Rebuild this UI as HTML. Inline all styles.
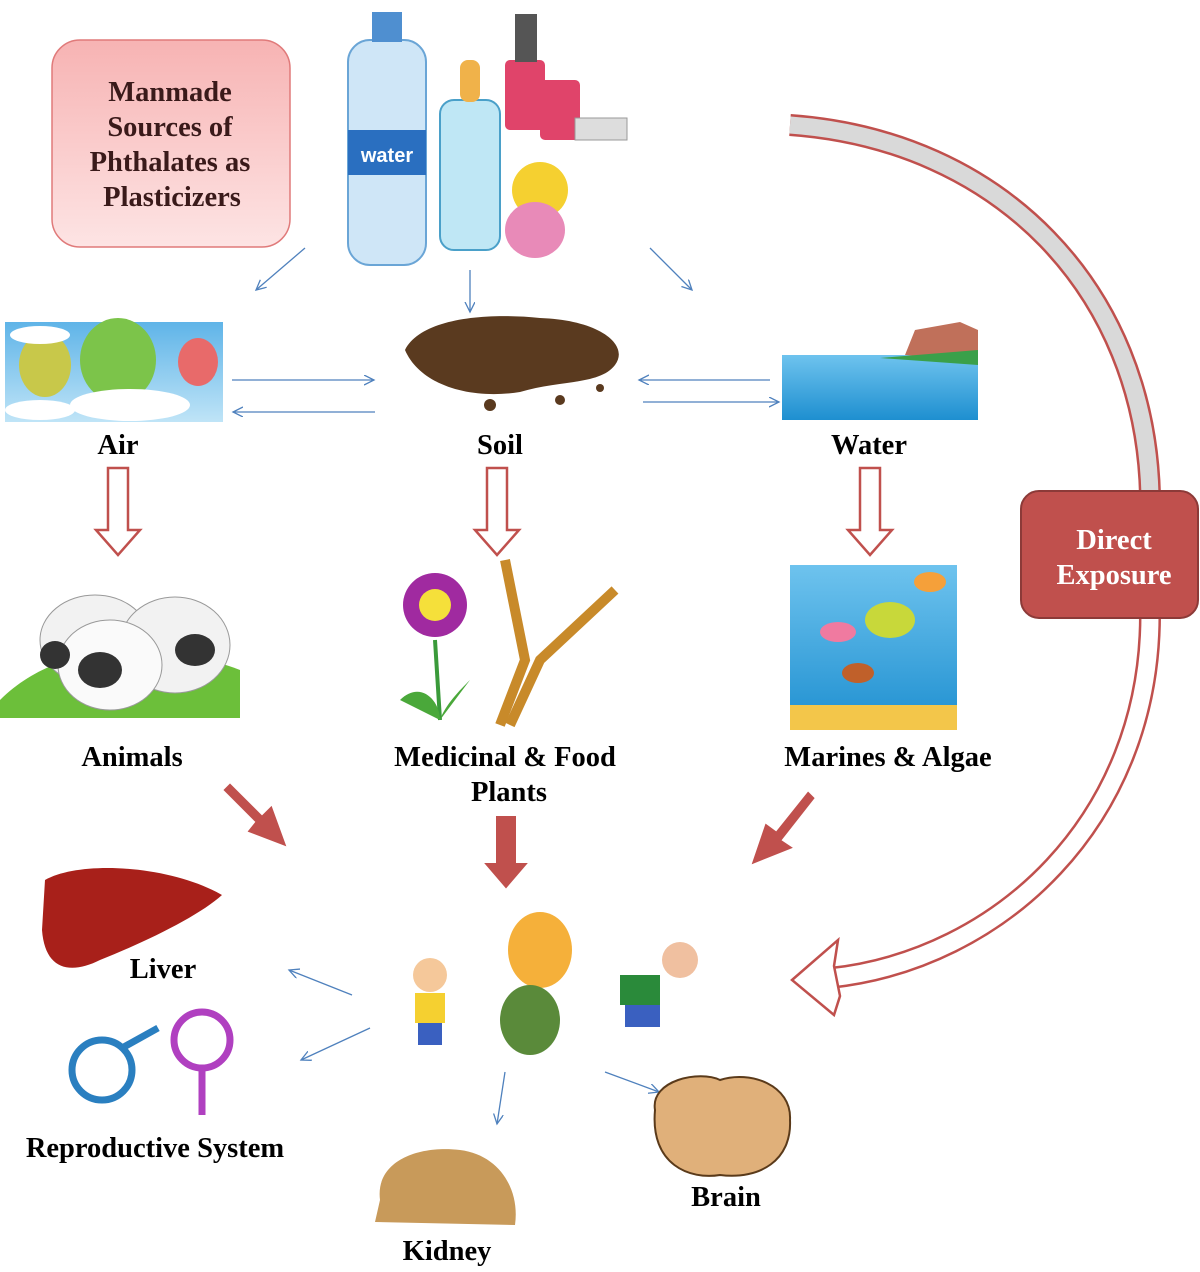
<!DOCTYPE html>
<html><head><meta charset="utf-8"><style>
body{margin:0;background:#fff}
svg text{font-family:"Liberation Serif",serif;font-weight:bold;fill:#000}
</style></head><body>
<svg width="1200" height="1267" viewBox="0 0 1200 1267" xmlns="http://www.w3.org/2000/svg">
<defs>
<linearGradient id="pk" x1="0" y1="0" x2="0" y2="1"><stop offset="0" stop-color="#f7b3b3"/><stop offset="1" stop-color="#fde4e4"/></linearGradient>
<linearGradient id="sky" x1="0" y1="0" x2="0" y2="1"><stop offset="0" stop-color="#5fb4e8"/><stop offset="1" stop-color="#bfe4f7"/></linearGradient>
<linearGradient id="sea" x1="0" y1="0" x2="0" y2="1"><stop offset="0" stop-color="#6ec3ee"/><stop offset="1" stop-color="#1e8fd0"/></linearGradient>
<marker id="ba" markerWidth="12" markerHeight="12" refX="10" refY="5" orient="auto" markerUnits="userSpaceOnUse"><path d="M0,0 L10,5 L0,10" fill="none" stroke="#4f81bd" stroke-width="1.3"/></marker>
</defs>
<rect x="52" y="40" width="238" height="207" rx="28" fill="url(#pk)" stroke="#e07a7a" stroke-width="1.5"/>
<text font-size="28.5" text-anchor="middle" style="fill:#3a1a1a"><tspan x="170" y="101">Manmade</tspan><tspan x="170" y="136">Sources of</tspan><tspan x="170" y="171">Phthalates as</tspan><tspan x="172" y="206">Plasticizers</tspan></text>
<rect x="348" y="40" width="78" height="225" rx="22" fill="#cfe6f7" stroke="#6aa5d6" stroke-width="2"/>
<rect x="372" y="12" width="30" height="30" fill="#4f8fd0"/>
<rect x="348" y="130" width="78" height="45" fill="#2a6fc0"/>
<text x="387" y="162" font-size="20" text-anchor="middle" style="fill:#fff;font-family:'Liberation Sans',sans-serif">water</text>
<rect x="440" y="100" width="60" height="150" rx="14" fill="#bfe7f5" stroke="#4aa0c9" stroke-width="2"/>
<rect x="460" y="60" width="20" height="42" rx="8" fill="#f0b24a"/>
<rect x="505" y="60" width="40" height="70" rx="5" fill="#e0446a"/>
<rect x="515" y="14" width="22" height="48" fill="#555"/>
<rect x="540" y="80" width="40" height="60" rx="5" fill="#e0446a"/>
<circle cx="540" cy="190" r="28" fill="#f5d030"/>
<ellipse cx="535" cy="230" rx="30" ry="28" fill="#e88ab8"/>
<rect x="575" y="118" width="52" height="22" fill="#ddd" stroke="#999"/>
<g stroke="#4f81bd" stroke-width="1.3" fill="none" marker-end="url(#ba)">
<line x1="305" y1="248" x2="256" y2="290"/>
<line x1="470" y1="270" x2="470" y2="312"/>
<line x1="650" y1="248" x2="692" y2="290"/>
<line x1="232" y1="380" x2="374" y2="380"/>
<line x1="375" y1="412" x2="233" y2="412"/>
<line x1="770" y1="380" x2="639" y2="380"/>
<line x1="643" y1="402" x2="779" y2="402"/>
<line x1="352" y1="995" x2="289" y2="970"/>
<line x1="370" y1="1028" x2="301" y2="1060"/>
<line x1="505" y1="1072" x2="497" y2="1124"/>
<line x1="605" y1="1072" x2="659" y2="1092"/>
</g>
<rect x="5" y="322" width="218" height="100" fill="url(#sky)"/>
<ellipse cx="45" cy="365" rx="26" ry="32" fill="#c8c84a"/>
<ellipse cx="118" cy="360" rx="38" ry="42" fill="#7cc44a"/>
<ellipse cx="198" cy="362" rx="20" ry="24" fill="#e86a6a"/>
<ellipse cx="130" cy="405" rx="60" ry="16" fill="#fff"/>
<ellipse cx="40" cy="410" rx="35" ry="10" fill="#fff"/>
<ellipse cx="40" cy="335" rx="30" ry="9" fill="#fff"/>
<path d="M405,350 C420,320 480,312 540,318 C600,320 630,345 615,365 C600,385 560,380 520,392 C470,400 420,385 405,350 Z" fill="#5a3a1f"/>
<circle cx="490" cy="405" r="6" fill="#5a3a1f"/><circle cx="560" cy="400" r="5" fill="#5a3a1f"/><circle cx="600" cy="388" r="4" fill="#5a3a1f"/>
<rect x="782" y="355" width="196" height="65" fill="url(#sea)"/>
<path d="M905,355 L915,330 L960,322 L978,330 L978,360 Z" fill="#c0705a"/>
<path d="M880,358 L978,350 L978,365 Z" fill="#3aa04a"/>
<g font-size="28.5"><text x="118" y="454" text-anchor="middle">Air</text><text x="500" y="454" text-anchor="middle">Soil</text><text x="869" y="454" text-anchor="middle">Water</text></g>
<g fill="#fff" stroke="#c0504d" stroke-width="2.5">
<path d="M108,468 H128 V530 H140 L118,555 L96,530 H108 Z"/>
<path d="M487,468 H507 V530 H519 L497,555 L475,530 H487 Z"/>
<path d="M860,468 H880 V530 H892 L870,555 L848,530 H860 Z"/>
</g>
<path d="M0,700 C60,640 160,640 240,670 V718 H0 Z" fill="#6cbf3a"/>
<ellipse cx="95" cy="640" rx="55" ry="45" fill="#f2f2f2" stroke="#999"/>
<ellipse cx="175" cy="645" rx="55" ry="48" fill="#f2f2f2" stroke="#999"/>
<ellipse cx="110" cy="665" rx="52" ry="45" fill="#fafafa" stroke="#999"/>
<ellipse cx="100" cy="670" rx="22" ry="18" fill="#333"/><ellipse cx="195" cy="650" rx="20" ry="16" fill="#333"/><ellipse cx="55" cy="655" rx="15" ry="14" fill="#333"/>
<line x1="435" y1="640" x2="440" y2="720" stroke="#3a9a3a" stroke-width="4"/>
<circle cx="435" cy="605" r="32" fill="#a02aa0"/><circle cx="435" cy="605" r="16" fill="#f5e03a"/>
<path d="M400,700 C420,680 440,700 440,720 Z M470,680 C460,690 445,705 440,720 Z" fill="#4aa83a"/>
<path d="M505,560 L525,660 L500,725" stroke="#c88a2a" stroke-width="10" fill="none"/>
<path d="M615,590 L540,660 L510,725" stroke="#c88a2a" stroke-width="10" fill="none"/>
<rect x="790" y="565" width="167" height="165" fill="url(#sea)"/>
<rect x="790" y="705" width="167" height="25" fill="#f3c64a"/>
<ellipse cx="890" cy="620" rx="25" ry="18" fill="#c8d83a"/>
<ellipse cx="838" cy="632" rx="18" ry="10" fill="#f07aa0"/>
<ellipse cx="930" cy="582" rx="16" ry="10" fill="#f5a03a"/>
<ellipse cx="858" cy="673" rx="16" ry="10" fill="#c0602a"/>
<g font-size="28.5" text-anchor="middle"><text x="132" y="766">Animals</text><text x="505" y="766">Medicinal &amp; Food</text><text x="509" y="801">Plants</text><text x="888" y="766">Marines &amp; Algae</text></g>
<g fill="#c0504d" stroke="#fff" stroke-width="2">
<path d="M230,782 L262,814 L272,804 L288,848 L246,832 L254,822 L222,790 Z"/>
<path d="M495,815 H517 V862 H530 L506,890 L482,862 H495 Z"/>
<path d="M808,790 L816,798 L783,840 L795,848 L750,866 L765,822 L776,830 Z"/>
</g>
<path d="M790,125 C1000,140 1145,290 1150,495" fill="none" stroke="#c0504d" stroke-width="22"/>
<path d="M790,125 C1000,140 1145,290 1150,495" fill="none" stroke="#d9d9d9" stroke-width="17"/>
<path d="M1150,615 C1150,820 1000,960 830,978" fill="none" stroke="#c0504d" stroke-width="22"/>
<path d="M1150,615 C1150,820 1000,960 830,978" fill="none" stroke="#fff" stroke-width="17"/>
<path d="M792,980 L838,940 L834,966 L840,996 L834,1015 Z" fill="#fff" stroke="#c0504d" stroke-width="2.5"/>
<rect x="1021" y="491" width="177" height="127" rx="18" fill="#c0504d" stroke="#8c3a38" stroke-width="2"/>
<text font-size="28.5" text-anchor="middle" style="fill:#fff"><tspan x="1114" y="549">Direct</tspan><tspan x="1114" y="584">Exposure</tspan></text>
<path d="M45,880 C80,860 170,865 222,895 C200,915 150,940 100,960 C70,975 45,970 42,930 Z" fill="#a8201a"/>
<text x="163" y="978" font-size="28.5" text-anchor="middle">Liver</text>
<circle cx="102" cy="1070" r="30" fill="#fff" stroke="#2a7fc0" stroke-width="7"/>
<line x1="122" y1="1048" x2="158" y2="1028" stroke="#2a7fc0" stroke-width="7"/>
<circle cx="202" cy="1040" r="28" fill="#fff" stroke="#b040c0" stroke-width="7"/>
<line x1="202" y1="1068" x2="202" y2="1115" stroke="#b040c0" stroke-width="7"/>
<text x="155" y="1157" font-size="28.5" text-anchor="middle">Reproductive System</text>
<circle cx="430" cy="975" r="17" fill="#f5c89a"/><rect x="415" y="993" width="30" height="30" fill="#f5d030"/><rect x="418" y="1023" width="24" height="22" fill="#3a60c0"/>
<ellipse cx="540" cy="950" rx="32" ry="38" fill="#f5b03a"/><ellipse cx="530" cy="1020" rx="30" ry="35" fill="#5a8a3a"/>
<circle cx="680" cy="960" r="18" fill="#f0c0a0"/><rect x="620" y="975" width="40" height="30" fill="#2a8a3a"/><rect x="625" y="1005" width="35" height="22" fill="#3a60c0"/>
<path d="M380,1200 C375,1160 420,1145 460,1150 C500,1155 520,1190 515,1225 L375,1222 Z" fill="#c89a5a"/>
<text x="447" y="1260" font-size="28.5" text-anchor="middle">Kidney</text>
<path d="M655,1110 C650,1080 700,1070 720,1080 C750,1070 792,1085 790,1120 C792,1160 760,1180 720,1175 C690,1180 650,1165 655,1110 Z" fill="#e0b07a" stroke="#5a3a1a" stroke-width="2"/>
<text x="726" y="1206" font-size="28.5" text-anchor="middle">Brain</text>
</svg>
</body></html>
